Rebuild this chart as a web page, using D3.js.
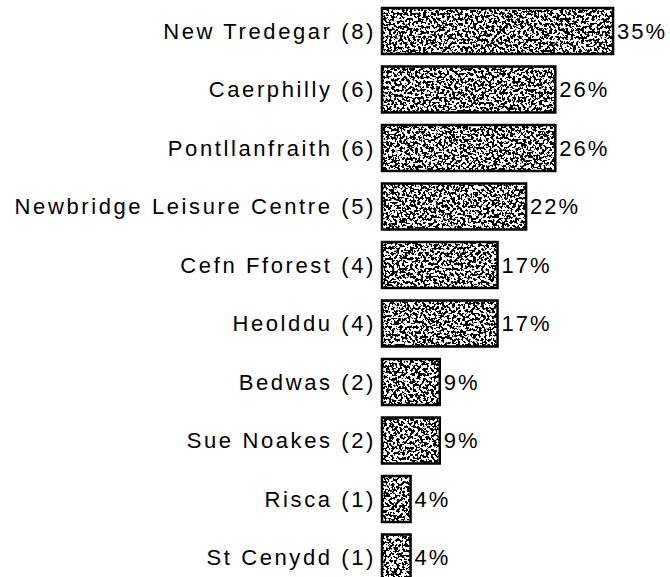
<!DOCTYPE html>
<html>
<head>
<meta charset="utf-8">
<script src="https://cdn.jsdelivr.net/npm/d3@7"></script>
<style>
  html, body { margin: 0; padding: 0; background: #fff; }
  svg { display: block; }
  text { font-family: "Liberation Sans", Arial, sans-serif; font-size: 22px; fill: #000; letter-spacing: 2.6px; }
</style>
</head>
<body>
<svg id="chart" width="670" height="577"></svg>
<script>
const categories = ["New Tredegar (8)", "Caerphilly (6)", "Pontllanfraith (6)", "Newbridge Leisure Centre (5)",
  "Cefn Fforest (4)", "Heolddu (4)", "Bedwas (2)", "Sue Noakes (2)", "Risca (1)", "St Cenydd (1)"];
const values = [34.8, 26.1, 26.1, 21.7, 17.4, 17.4, 8.7, 8.7, 4.3, 4.3];
const valueLabels = ["35%", "26%", "26%", "22%", "17%", "17%", "9%", "9%", "4%", "4%"];

const svg = d3.select("#chart");

// stipple texture filter
const defs = svg.append("defs");
const f = defs.append("filter").attr("id", "stip")
  .attr("x", 0).attr("y", 0).attr("width", 1).attr("height", 1)
  .attr("filterUnits", "objectBoundingBox");
f.append("feTurbulence").attr("type", "fractalNoise").attr("baseFrequency", 0.38)
  .attr("numOctaves", 2).attr("seed", 7).attr("result", "n");
f.append("feColorMatrix").attr("in", "n").attr("type", "matrix")
  .attr("values", "0 0 0 0 0  0 0 0 0 0  0 0 0 0 0  1 0 0 0 0").attr("result", "a");
const ct = f.append("feComponentTransfer").attr("in", "a").attr("result", "t");
ct.append("feFuncA").attr("type", "linear").attr("slope", 60).attr("intercept", -30);
f.append("feComposite").attr("in", "t").attr("in2", "SourceAlpha").attr("operator", "in");

const x = d3.scaleLinear().domain([0, 35]).range([382, 382 + 6.64 * 35]);
const y = d3.scaleBand().domain(categories).range([8, 580.5]).paddingInner(0.214).paddingOuter(0);

const g = svg.append("g");
const rows = g.selectAll("g.row").data(categories).join("g").attr("class", "row");

rows.append("rect")
  .attr("x", x(0)).attr("y", d => y(d))
  .attr("width", (d, i) => x(values[i]) - x(0)).attr("height", y.bandwidth())
  .attr("fill", "#fff");

rows.append("rect")
  .attr("x", x(0)).attr("y", d => y(d))
  .attr("width", (d, i) => x(values[i]) - x(0)).attr("height", y.bandwidth())
  .attr("fill", "#000").attr("filter", "url(#stip)");

rows.append("rect")
  .attr("x", x(0)).attr("y", d => y(d))
  .attr("width", (d, i) => x(values[i]) - x(0)).attr("height", y.bandwidth())
  .attr("fill", "none").attr("stroke", "#000").attr("stroke-width", 2.5);

rows.append("text")
  .attr("x", x(0) - 6).attr("y", d => y(d) + y.bandwidth() / 2)
  .attr("dy", "0.36em").attr("text-anchor", "end")
  .text(d => d);

rows.append("text")
  .attr("x", (d, i) => x(values[i]) + 4).attr("y", d => y(d) + y.bandwidth() / 2)
  .attr("dy", "0.36em").style("letter-spacing", "2px")
  .text((d, i) => valueLabels[i]);
</script>
</body>
</html>
